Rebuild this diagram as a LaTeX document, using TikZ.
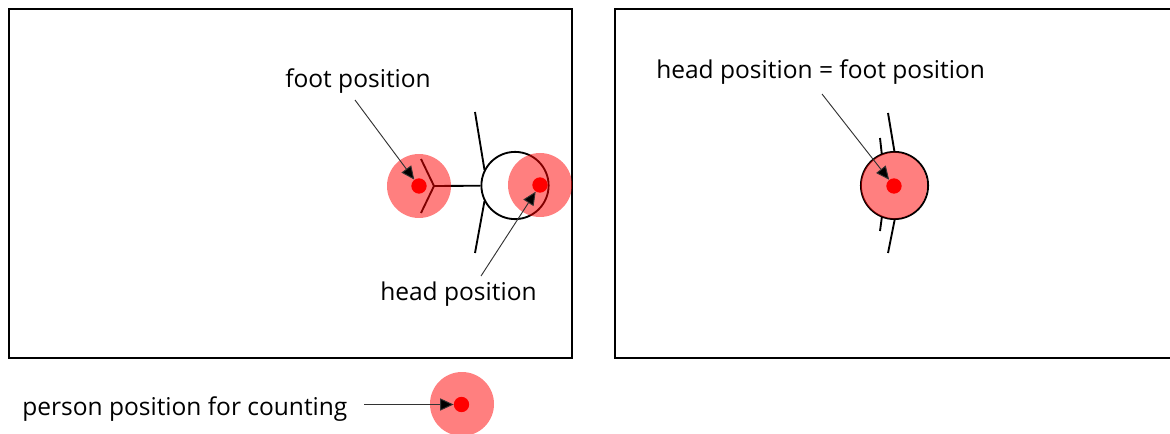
\documentclass[tikz,border=0pt]{standalone}
\usepackage{fontspec}
\setmainfont{Open Sans}
\usetikzlibrary{arrows.meta}

\begin{document}
\begin{tikzpicture}[
  x=0.75pt,y=-0.75pt,
  frame/.style={draw=black,line width=1.5pt,line cap=rect},
  bodyline/.style={draw=black,line width=1.4pt},
  headring/.style={circle,draw=black,line width=1.4pt,fill=white,minimum size=50.4pt,inner sep=0pt},
  halo/.style={circle,fill=red,opacity=.5,minimum size=#1,inner sep=0pt},
  halo/.default=48pt,
  spot/.style={circle,fill=red,minimum size=11.5pt,inner sep=0pt},
  pointer/.style={draw=black!80,line width=.7pt,-{Triangle[length=10pt,width=9pt,fill=black]}},
  caption/.style={anchor=base west,inner sep=0pt,font=\fontsize{18.4}{22}\selectfont},
  ]
  \useasboundingbox (0,0) rectangle (1170,434);

  % frames
  \draw[frame] (9,9) rectangle (572,358);
  \draw[frame] (1172,9) -- (615,9) -- (615,358) -- (1172,358);

  % person seen from above, walking
  \coordinate (footjoint) at (434,186);
  \draw[bodyline] (421,159) -- (footjoint) -- (421,213);
  \draw[bodyline] (475,112) -- (484.5,170);
  \draw[bodyline] (484.5,201) -- (475,253);
  \node[headring] (headl) at (515,185.5) {};
  \draw[bodyline] (footjoint) -- (headl);
  \node[halo] (foothalo) at (419,186) {};
  \node[halo] (headhalo) at (540,185) {};
  \node[spot] (footspot) at (419,186) {};
  \node[spot] (headspot) at (540,185) {};

  % person seen from above, standing
  \draw[bodyline] (888,113) -- (895,155);
  \draw[bodyline] (895,218) -- (888,253);
  \draw[bodyline] (880,138) -- (882,156);
  \draw[bodyline] (882,216) -- (880,231);
  \node[headring] (headr) at (894.5,185.5) {};
  \node[halo=49.6pt] (bothhalo) at (894,185.5) {};
  \node[spot] (bothspot) at (894,186) {};

  % legend
  \node[halo] (legendhalo) at (462,404) {};
  \node[spot] (legendspot) at (461.5,404.5) {};

  % labels
  \node[caption] (footlabel) at (285,88) {foot position};
  \node[caption] (headlabel) at (380,301) {head position};
  \node[caption] (bothlabel) at (656,79) {head position = foot position};
  \node[caption] (legendlabel) at (22,415) {person position for counting};

  % pointers
  \coordinate (footstart) at (355,100);
  \coordinate (headstart) at (481,276);
  \coordinate (bothstart) at (822,94);
  \coordinate (legendstart) at (364,404.5);
  \draw[pointer] (footstart) -- (footspot);
  \draw[pointer] (headstart) -- (headspot);
  \draw[pointer] (bothstart) -- (bothspot);
  \draw[pointer] (legendstart) -- (legendspot);
\end{tikzpicture}
\end{document}
